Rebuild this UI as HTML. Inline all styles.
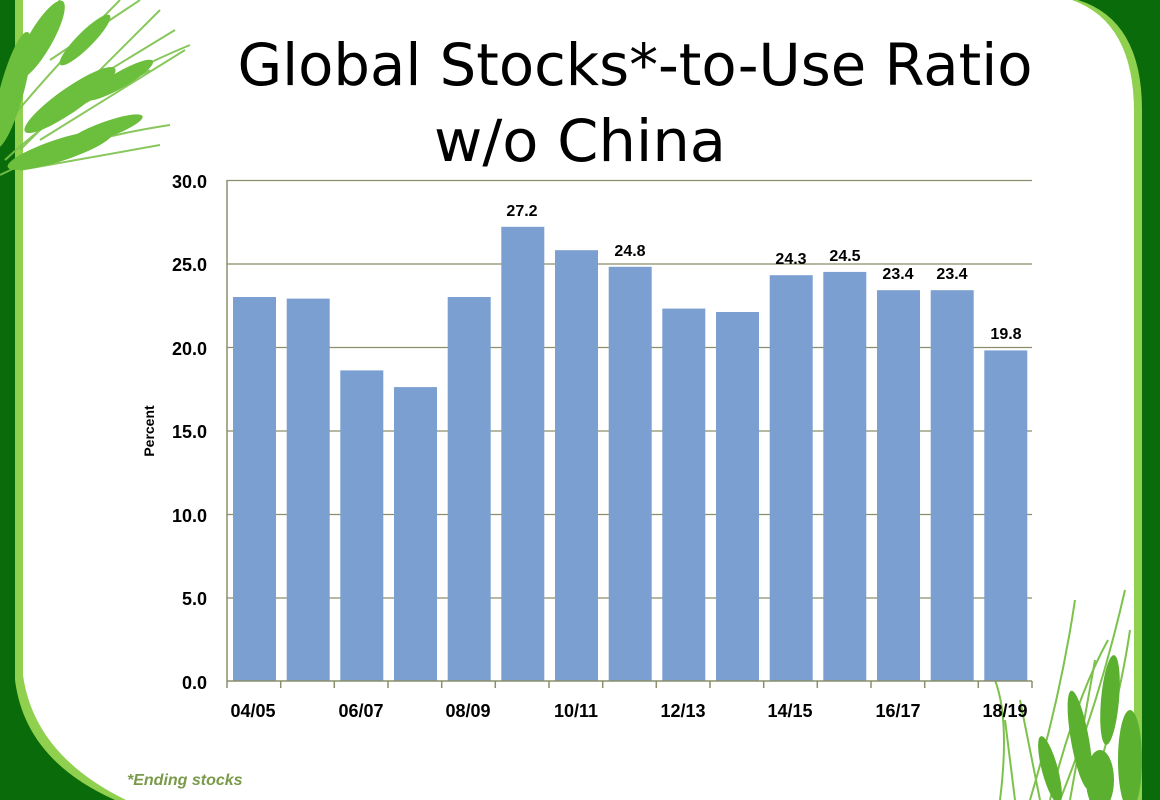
<!DOCTYPE html>
<html><head><meta charset="utf-8"><style>
html,body{margin:0;padding:0;background:#fff;}
svg{display:block;}
</style></head><body>
<svg width="1160" height="800" viewBox="0 0 1160 800" xmlns="http://www.w3.org/2000/svg" font-family="Liberation Sans, Arial, sans-serif">
<rect x="0" y="0" width="1160" height="800" fill="#0a6b0a"/>
<path d="M15,0 L1078,0 Q1142,20 1142,110 L1142,800 L115,800 Q25,760 15,680 Z" fill="#8fd14f"/>
<path d="M23,0 L1072,0 Q1134,22 1134,112 L1134,800 L126,800 Q34,755 23,675 Z" fill="#ffffff"/>
<!-- wheat top-left -->
<g stroke="#7cc24a" stroke-width="2" fill="none" opacity="0.9">
<path d="M5,160 Q80,90 190,45"/><path d="M20,150 Q90,80 160,10"/><path d="M10,120 Q60,60 120,0"/>
<path d="M0,175 Q70,140 170,125"/><path d="M0,110 Q30,50 60,0"/>
<path d="M30,130 L150,70"/><path d="M40,140 L185,50"/><path d="M20,170 L160,145"/>
<path d="M60,100 L175,30"/><path d="M50,60 L140,0"/>
</g>
<g fill="#6cbf3c">
<ellipse cx="40" cy="40" rx="12" ry="45" transform="rotate(30 40 40)"/>
<ellipse cx="70" cy="100" rx="12" ry="55" transform="rotate(55 70 100)"/>
<ellipse cx="60" cy="150" rx="11" ry="55" transform="rotate(72 60 150)"/>
<ellipse cx="12" cy="90" rx="12" ry="60" transform="rotate(15 12 90)"/>
<ellipse cx="105" cy="130" rx="8" ry="40" transform="rotate(70 105 130)"/>
<ellipse cx="85" cy="40" rx="8" ry="35" transform="rotate(45 85 40)"/>
<ellipse cx="120" cy="80" rx="8" ry="38" transform="rotate(60 120 80)"/>
</g>
<!-- wheat bottom-right -->
<g stroke="#7cc24a" stroke-width="2" fill="none">
<path d="M1000,800 Q1010,720 995,680"/><path d="M1030,800 Q1060,700 1075,600"/><path d="M1060,800 Q1100,700 1125,590"/>
<path d="M1050,800 Q1075,700 1108,640"/><path d="M1090,800 Q1120,700 1130,630"/><path d="M1040,800 L1020,700"/>
<path d="M1070,800 L1095,660"/><path d="M1015,800 L1005,720"/>
</g>
<g fill="#5cb030">
<ellipse cx="1110" cy="700" rx="9" ry="45" transform="rotate(5 1110 700)"/>
<ellipse cx="1080" cy="740" rx="9" ry="50" transform="rotate(-10 1080 740)"/>
<ellipse cx="1130" cy="760" rx="12" ry="50"/>
<ellipse cx="1050" cy="770" rx="8" ry="35" transform="rotate(-15 1050 770)"/>
<ellipse cx="1100" cy="780" rx="14" ry="30"/>
</g>
<text x="635" y="85" font-size="58" text-anchor="middle" fill="#000" font-family="DejaVu Sans, Liberation Sans, sans-serif" textLength="795" lengthAdjust="spacingAndGlyphs">Global Stocks*-to-Use Ratio</text>
<text x="580" y="161" font-size="58" text-anchor="middle" fill="#000" font-family="DejaVu Sans, Liberation Sans, sans-serif" textLength="292" lengthAdjust="spacingAndGlyphs">w/o China</text>
<g stroke="#8a8f6a" stroke-width="1.3">
<line x1="227" y1="180.5" x2="1032" y2="180.5"/>
<line x1="227" y1="264" x2="1032" y2="264"/>
<line x1="227" y1="347.5" x2="1032" y2="347.5"/>
<line x1="227" y1="431" x2="1032" y2="431"/>
<line x1="227" y1="514.5" x2="1032" y2="514.5"/>
<line x1="227" y1="598" x2="1032" y2="598"/>
</g>
<g fill="#7b9fd0">
<rect x="233" y="297" width="43" height="384"/>
<rect x="286.7" y="298.6" width="43" height="382.4"/>
<rect x="340.3" y="370.4" width="43" height="310.6"/>
<rect x="394" y="387.1" width="43" height="293.9"/>
<rect x="447.7" y="297" width="43" height="384"/>
<rect x="501.3" y="226.8" width="43" height="454.2"/>
<rect x="555" y="250.2" width="43" height="430.8"/>
<rect x="608.7" y="266.8" width="43" height="414.2"/>
<rect x="662.3" y="308.6" width="43" height="372.4"/>
<rect x="716" y="312" width="43" height="369"/>
<rect x="769.7" y="275.2" width="43" height="405.8"/>
<rect x="823.3" y="271.9" width="43" height="409.1"/>
<rect x="877" y="290.2" width="43" height="390.8"/>
<rect x="930.7" y="290.2" width="43" height="390.8"/>
<rect x="984.3" y="350.4" width="43" height="330.6"/>
</g>
<g stroke="#8a8f6a" stroke-width="1.5">
<line x1="227" y1="180" x2="227" y2="681"/>
<line x1="227" y1="681" x2="1032" y2="681"/>
<line x1="227" y1="681" x2="227" y2="688"/><line x1="280.7" y1="681" x2="280.7" y2="688"/><line x1="334.3" y1="681" x2="334.3" y2="688"/>
<line x1="388" y1="681" x2="388" y2="688"/><line x1="441.7" y1="681" x2="441.7" y2="688"/><line x1="495.3" y1="681" x2="495.3" y2="688"/>
<line x1="549" y1="681" x2="549" y2="688"/><line x1="602.7" y1="681" x2="602.7" y2="688"/><line x1="656.3" y1="681" x2="656.3" y2="688"/>
<line x1="710" y1="681" x2="710" y2="688"/><line x1="763.7" y1="681" x2="763.7" y2="688"/><line x1="817.3" y1="681" x2="817.3" y2="688"/>
<line x1="871" y1="681" x2="871" y2="688"/><line x1="924.7" y1="681" x2="924.7" y2="688"/><line x1="978.3" y1="681" x2="978.3" y2="688"/><line x1="1032" y1="681" x2="1032" y2="688"/>
</g>
<g font-size="18" font-weight="bold" text-anchor="end" fill="#000">
<text x="207" y="188">30.0</text><text x="207" y="271">25.0</text><text x="207" y="355">20.0</text>
<text x="207" y="438">15.0</text><text x="207" y="522">10.0</text><text x="207" y="605">5.0</text><text x="207" y="689">0.0</text>
</g>
<text transform="translate(154,431) rotate(-90)" font-size="14" font-weight="bold" text-anchor="middle">Percent</text>
<g font-size="18" font-weight="bold" text-anchor="middle" fill="#000">
<text x="253" y="717">04/05</text><text x="361" y="717">06/07</text><text x="468" y="717">08/09</text>
<text x="576" y="717">10/11</text><text x="683" y="717">12/13</text><text x="790" y="717">14/15</text>
<text x="898" y="717">16/17</text><text x="1005" y="717">18/19</text>
</g>
<g font-size="16" font-weight="bold" text-anchor="middle" fill="#000">
<text x="522" y="216">27.2</text><text x="630" y="256">24.8</text><text x="791" y="264">24.3</text>
<text x="845" y="261">24.5</text><text x="898" y="279">23.4</text><text x="952" y="279">23.4</text><text x="1006" y="339">19.8</text>
</g>
<text x="127" y="785" font-size="16" font-weight="bold" font-style="italic" fill="#7a9a4a">*Ending stocks</text>
</svg>
</body></html>
